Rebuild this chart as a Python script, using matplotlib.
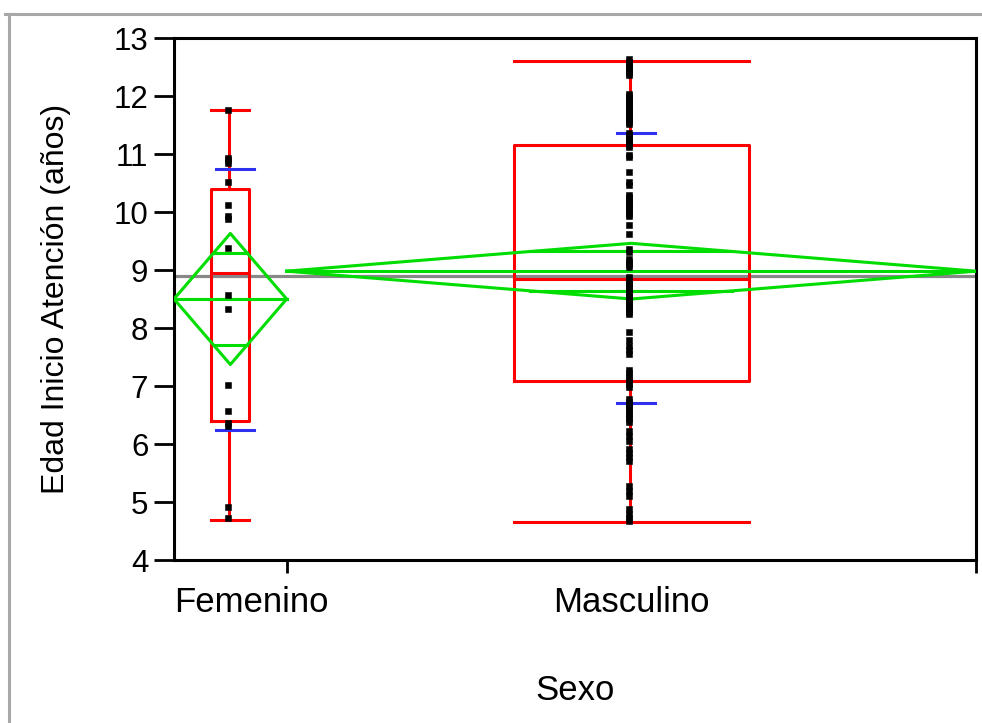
import numpy as np
import matplotlib.pyplot as plt
from matplotlib.lines import Line2D

plt.rcParams['font.family'] = ['Liberation Sans', 'DejaVu Sans']

groups = ["Femenino", "Masculino"]

edad_fem = [11.76, 10.93, 10.90, 10.84, 10.52, 10.12, 9.93, 9.88, 9.38, 8.57,
            8.33, 7.02, 6.57, 6.36, 6.31, 4.91, 4.72]

edad_masc = [12.64, 12.58, 12.55, 12.52, 12.48, 12.44, 12.40, 12.37,
             12.03, 12.00, 11.97, 11.93, 11.90, 11.86, 11.82, 11.78, 11.75, 11.71,
             11.67, 11.63, 11.60, 11.56, 11.52,
             11.36, 11.32, 11.28, 11.24, 11.20, 11.16, 11.12,
             10.98, 10.94, 10.69, 10.52, 10.47,
             10.30, 10.26, 10.22, 10.18, 10.14, 10.10, 10.06, 10.02, 9.97, 9.93,
             9.78, 9.62, 9.36, 9.31, 9.19, 9.14, 9.10, 9.06,
             8.88, 8.84, 8.80, 8.76, 8.72, 8.68, 8.64, 8.60, 8.56, 8.52, 8.48,
             8.44, 8.40, 8.36, 8.32, 8.28, 8.25,
             7.93, 7.79, 7.69, 7.62, 7.55,
             7.28, 7.22, 7.16, 7.10, 7.04, 6.98,
             6.78, 6.73, 6.68, 6.63, 6.58, 6.53, 6.48, 6.43, 6.38,
             6.22, 6.14, 6.06, 5.91, 5.84, 5.77, 5.70,
             5.28, 5.19, 5.10, 4.88, 4.80, 4.73, 4.67]

# quantiles / whiskers per group
q1 = [6.40, 7.09]
mediana = [8.95, 8.84]
q3 = [10.40, 11.16]
bigote_bajo = [4.69, 4.65]
bigote_alto = [11.76, 12.61]

# means diamonds (mean, 95% CI half width) and std dev lines
media = [8.50, 8.98]
ic_medio = [1.13, 0.48]
sd_bajo = [6.24, 6.71]
sd_alto = [10.74, 11.36]
media_global = 8.90

ROJO = '#ff0000'
VERDE = '#00dd00'
AZUL = '#3030f0'

datos = [edad_fem, edad_masc]
n = [len(d) for d in datos]
bordes = np.concatenate([[0], np.cumsum(n)])
total = bordes[-1]

fig = plt.figure(figsize=(9.82, 7.23), dpi=100)
ax = fig.add_axes([174 / 982, 1 - 560 / 723, (976 - 174) / 982, (560 - 38) / 723])
px = total / 802.0  # data units per pixel along x

ax.set_xlim(0, total)
ax.set_ylim(4, 13)

# grand mean
ax.axhline(media_global, color='#888888', lw=2.3, zorder=1)

for i, d in enumerate(datos):
    izq, der = bordes[i], bordes[i + 1]
    c = (izq + der) / 2
    w = der - izq
    hb = w * 0.17

    # box
    ax.plot([c - hb, c + hb, c + hb, c - hb, c - hb],
            [q1[i], q1[i], q3[i], q3[i], q1[i]], color=ROJO, lw=2.2, zorder=2)
    ax.plot([c - hb, c + hb], [mediana[i]] * 2, color=ROJO, lw=2.2, zorder=2)
    ax.plot([c - 1.5 * px] * 2, [q3[i], bigote_alto[i]], color=ROJO, lw=2.2, zorder=2)
    ax.plot([c - 1.5 * px] * 2, [bigote_bajo[i], q1[i]], color=ROJO, lw=2.2, zorder=2)
    ax.plot([c - hb, c + hb], [bigote_alto[i]] * 2, color=ROJO, lw=2.2, zorder=2)
    ax.plot([c - hb, c + hb], [bigote_bajo[i]] * 2, color=ROJO, lw=2.2, zorder=2)

    # diamond
    m, h = media[i], ic_medio[i]
    ax.plot([izq, c, der, c, izq], [m, m + h, m, m - h, m], color=VERDE, lw=2.2, zorder=3)
    ax.plot([izq, der], [m, m], color=VERDE, lw=2.2, zorder=3)
    k = 1 / np.sqrt(2)
    ow = (1 - k) * w / 2
    for s in (1, -1):
        ax.plot([c - ow, c + ow], [m + s * h * k] * 2, color=VERDE, lw=2.2, zorder=3)

    # std dev marks
    for y in (sd_bajo[i], sd_alto[i]):
        ax.plot([c - 14 * px, c + 24 * px], [y, y], color=AZUL, lw=2.2, zorder=4)

    # points
    ax.plot([c - 2 * px] * len(d), d, ls='none', marker='s', ms=3.8,
            mfc='black', mec='black', mew=0.4, zorder=5)

for s in ax.spines.values():
    s.set_linewidth(2.2)

ax.set_yticks(range(4, 14))
ax.tick_params(axis='y', length=14.5, width=2.0, pad=4, labelsize=22.5)
ax.set_xticks(bordes[1:])
ax.set_xticklabels([])
ax.tick_params(axis='x', which='major', length=9.5, width=2.0)

# group names under each group; the first one is kept inside the axis
centros = (bordes[:-1] + bordes[1:]) / 2
for i, g in enumerate(groups):
    if i == 0:
        ax.annotate(g, (0, 0), xycoords='axes fraction', xytext=(0, -19),
                    textcoords='offset points', ha='left', va='top', fontsize=25)
    else:
        ax.annotate(g, (centros[i], 0), xycoords=('data', 'axes fraction'),
                    xytext=(0, -19), textcoords='offset points',
                    ha='center', va='top', fontsize=25)

ax.set_ylabel("Edad Inicio Atención (años)", fontsize=23)
ax.yaxis.set_label_coords(-0.128, 0.5)
fig.text(575 / 982, 1 - 690 / 723, "Sexo", fontsize=25, ha='center', va='center')

# outer frame
fig.add_artist(Line2D([5 / 982, 1], [1 - 14 / 723] * 2, color='#a8a8a8', lw=2.2))
fig.add_artist(Line2D([9 / 982] * 2, [0, 1 - 14 / 723], color='#a8a8a8', lw=2.2))

fig.savefig("out.png", dpi=100)
